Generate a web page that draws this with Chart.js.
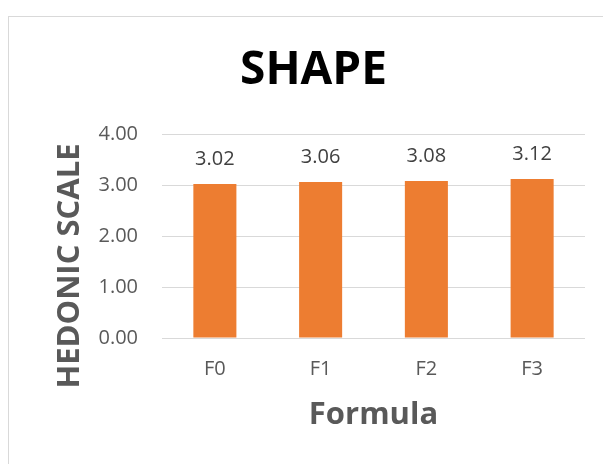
<!DOCTYPE html>
<html>
<head>
<meta charset="utf-8">
<script src="https://cdn.jsdelivr.net/npm/chart.js@4/dist/chart.umd.min.js"></script>
<style>
  html, body { margin: 0; padding: 0; background: #ffffff; }
  #wrap { position: relative; width: 603px; height: 464px; overflow: hidden; }
  #frame { position: absolute; left: 8px; top: 16px; width: 700px; height: 600px;
           border-left: 1px solid #d9d9d9; border-top: 1px solid #d9d9d9; }
  #chart { position: absolute; left: 0; top: 0; }
</style>
</head>
<body>
<div id="wrap">
  <div id="frame"></div>
  <canvas id="chart" width="603" height="464"></canvas>
</div>
<script>
// Hedonic test results for the "shape" attribute, per formula
const categories = ['F0', 'F1', 'F2', 'F3'];
const shapeScores = [3.02, 3.06, 3.08, 3.12];
const yTicks = [0, 1, 2, 3, 4];

const chartTitle = 'SHAPE';
const xTitle = 'Formula';
const yTitle = 'HEDONIC SCALE';

const FONT = "'Open Sans', 'Noto Sans', sans-serif";

// Value labels above each bar
const valueLabels = {
  id: 'valueLabels',
  afterDatasetsDraw(chart) {
    const { ctx } = chart;
    const meta = chart.getDatasetMeta(0);
    ctx.save();
    ctx.font = '20px ' + FONT;
    ctx.fillStyle = '#404040';
    ctx.textAlign = 'center';
    ctx.textBaseline = 'middle';
    meta.data.forEach((bar, i) => {
      const v = chart.data.datasets[0].data[i];
      ctx.fillText(v.toFixed(2), bar.x, bar.y - 25);
    });
    ctx.restore();
  }
};

// Rotated title for the value axis
const yAxisTitle = {
  id: 'yAxisTitle',
  afterDraw(chart) {
    const { ctx } = chart;
    ctx.save();
    ctx.translate(70.5, 266);
    ctx.rotate(-Math.PI / 2);
    ctx.font = 'bold 31px ' + FONT;
    ctx.fillStyle = '#595959';
    ctx.textAlign = 'center';
    ctx.textBaseline = 'middle';
    ctx.fillText(yTitle, 0, 0);
    ctx.restore();
  }
};

new Chart(document.getElementById('chart'), {
  type: 'bar',
  data: {
    labels: categories,
    datasets: [{
      data: shapeScores,
      backgroundColor: '#ED7D31',
      borderWidth: 0,
      categoryPercentage: 1,
      barPercentage: 0.407
    }]
  },
  options: {
    responsive: false,
    devicePixelRatio: 1,
    animation: false,
    layout: { padding: { left: 42, right: 18, top: 0, bottom: 0 } },
    plugins: {
      legend: { display: false },
      tooltip: { enabled: false },
      title: {
        display: true,
        text: chartTitle,
        color: '#000000',
        font: { family: FONT, size: 46, weight: 'bold', lineHeight: 1.2 },
        padding: { top: 43.4, bottom: 35.4 }
      }
    },
    scales: {
      x: {
        grid: { display: false, drawTicks: false },
        border: { display: false },
        ticks: { color: '#595959', font: { family: FONT, size: 20 }, padding: 19.5 },
        title: {
          display: true,
          text: xTitle,
          color: '#595959',
          font: { family: FONT, size: 31, weight: 'bold', lineHeight: 1.2 },
          padding: { top: 0, bottom: 30.4 }
        },
        afterFit(scale) { scale.height = 126; }
      },
      y: {
        min: 0,
        max: 4,
        afterBuildTicks(scale) { scale.ticks = yTicks.map(v => ({ value: v })); },
        grid: { color: '#d9d9d9', lineWidth: 1, drawTicks: false },
        border: { display: false },
        ticks: {
          color: '#595959',
          font: { family: FONT, size: 20 },
          padding: 24,
          callback: v => Number(v).toFixed(2)
        },
        afterFit(scale) { scale.width = 120; }
      }
    }
  },
  plugins: [valueLabels, yAxisTitle]
});
</script>
</body>
</html>
